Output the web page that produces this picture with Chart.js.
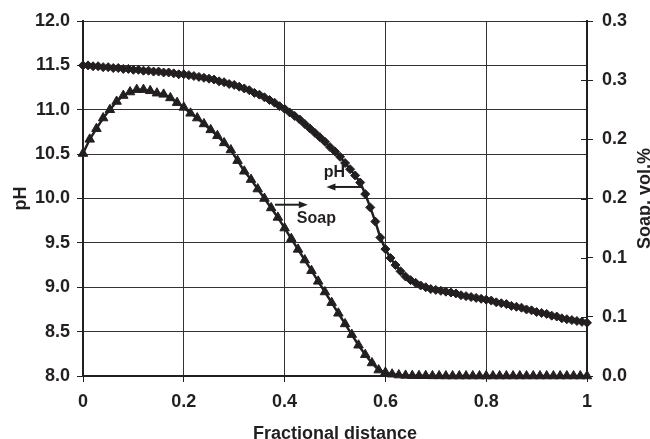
<!DOCTYPE html>
<html>
<head>
<meta charset="utf-8">
<script src="https://cdn.jsdelivr.net/npm/chart.js@4.4.1/dist/chart.umd.min.js"></script>
<style>
  html, body { margin: 0; padding: 0; background: #fff; }
  #wrap { width: 650px; height: 439px; }
</style>
</head>
<body>
<div id="wrap"><canvas id="chart" width="650" height="439"></canvas></div>
<script>
// sampling of the two curves along the fractional distance
const phStep = 0.01
const soapStep = 1 / 75

// pH (left axis), one value per phStep from 0 to 1
const phValues = [
  11.50, 11.50, 11.49, 11.49, 11.48, 11.48, 11.47, 11.47, 11.46, 11.46,
  11.45, 11.45, 11.44, 11.44, 11.43, 11.43, 11.42, 11.42, 11.41, 11.40,
  11.40, 11.39, 11.38, 11.37, 11.36, 11.35, 11.34, 11.32, 11.31, 11.29,
  11.28, 11.26, 11.24, 11.22, 11.19, 11.17, 11.14, 11.11, 11.08, 11.04,
  11.01, 10.97, 10.93, 10.89, 10.84, 10.79, 10.74, 10.69, 10.64, 10.58,
  10.53, 10.47, 10.40, 10.33, 10.26, 10.18, 10.05, 9.90, 9.74, 9.56,
  9.43, 9.33, 9.25, 9.18, 9.12, 9.08, 9.05, 9.02, 9.00, 8.98,
  8.97, 8.96, 8.95, 8.94, 8.93, 8.91, 8.90, 8.89, 8.88, 8.87,
  8.86, 8.85, 8.83, 8.82, 8.81, 8.79, 8.78, 8.77, 8.75, 8.74,
  8.72, 8.71, 8.70, 8.68, 8.67, 8.65, 8.64, 8.63, 8.62, 8.61,
  8.60
]

// soap vol.% (right axis), one value per soapStep from 0 to 1
const soapValues = [
  0.188, 0.200, 0.209, 0.218, 0.225, 0.232, 0.237, 0.240, 0.242, 0.242,
  0.241, 0.239, 0.238, 0.235, 0.231, 0.227, 0.222, 0.218, 0.213, 0.208,
  0.203, 0.197, 0.191, 0.182, 0.173, 0.166, 0.158, 0.150, 0.142, 0.134,
  0.125, 0.116, 0.107, 0.098, 0.089, 0.080, 0.071, 0.062, 0.053, 0.044,
  0.035, 0.026, 0.018, 0.011, 0.005, 0.003, 0.0015, 0.0008, 0.0005, 0.0003,
  0.0002, 0.0002, 0.0001, 0.0001, 0, 0, 0, 0, 0, 0,
  0, 0, 0, 0, 0, 0, 0, 0, 0, 0,
  0, 0, 0, 0, 0, 0
]

const xTickLabels = ['0', '0.2', '0.4', '0.6', '0.8', '1']
const phTickLabels = ['8.0', '8.5', '9.0', '9.5', '10.0', '10.5', '11.0', '11.5', '12.0']
const soapTickLabels = ['0.0', '0.1', '0.1', '0.2', '0.2', '0.3', '0.3']

const ink = '#231f20'
const gridColor = '#333333'
const font = '"Liberation Sans", Arial, sans-serif'

const phPoints = phValues.map((v, i) => ({ x: i * phStep, y: v }))
const soapPoints = soapValues.map((v, i) => ({ x: i * soapStep, y: v }))

// titles, arrows and the inner half of the right-hand ticks
const decorations = {
  id: 'decorations',
  afterDraw(chart) {
    const { ctx, chartArea, scales } = chart
    const x = scales.x, y = scales.y, y2 = scales.y2
    ctx.save()

    ctx.strokeStyle = ink
    ctx.lineWidth = 1
    y2.ticks.forEach((t, i) => {
      const py = Math.round(y2.getPixelForTick(i)) + 0.5
      ctx.beginPath()
      ctx.moveTo(chartArea.right - 6, py)
      ctx.lineTo(chartArea.right, py)
      ctx.stroke()
    })

    ctx.fillStyle = ink
    ctx.font = 'bold 18px ' + font
    ctx.textAlign = 'center'
    ctx.textBaseline = 'alphabetic'
    ctx.fillText('Fractional distance', (chartArea.left + chartArea.right) / 2, 439)

    ctx.save()
    ctx.translate(26, (chartArea.top + chartArea.bottom) / 2)
    ctx.rotate(-Math.PI / 2)
    ctx.fillText('pH', 0, 0)
    ctx.restore()

    ctx.save()
    ctx.translate(650, (chartArea.top + chartArea.bottom) / 2)
    ctx.rotate(-Math.PI / 2)
    ctx.fillText('Soap. vol.%', 0, 0)
    ctx.restore()

    ctx.font = 'bold 16px ' + font
    ctx.fillText('pH', x.getPixelForValue(0.499), y.getPixelForValue(10.24))
    ctx.fillText('Soap', x.getPixelForValue(0.463), y.getPixelForValue(9.72))

    function arrow(x0, x1, yv) {
      const a = x.getPixelForValue(x0), b = x.getPixelForValue(x1)
      const py = y.getPixelForValue(yv)
      const dir = b > a ? 1 : -1
      ctx.lineWidth = 2
      ctx.beginPath()
      ctx.moveTo(a, py)
      ctx.lineTo(b - dir * 6, py)
      ctx.stroke()
      ctx.beginPath()
      ctx.moveTo(b, py)
      ctx.lineTo(b - dir * 9, py - 3.5)
      ctx.lineTo(b - dir * 9, py + 3.5)
      ctx.closePath()
      ctx.fill()
    }
    arrow(0.555, 0.483, 10.13)
    arrow(0.381, 0.446, 9.93)

    ctx.restore()
  }
}

const ctx = document.getElementById('chart').getContext('2d')
const chart = new Chart(ctx, {
  type: 'line',
  data: {
    datasets: [
      {
        label: 'pH',
        data: phPoints,
        yAxisID: 'y',
        borderColor: ink,
        backgroundColor: ink,
        borderWidth: 2.5,
        pointStyle: 'rectRot',
        pointRadius: 4.5,
        pointBorderWidth: 1,
        tension: 0,
        clip: false
      },
      {
        label: 'Soap',
        data: soapPoints,
        yAxisID: 'y2',
        borderColor: ink,
        backgroundColor: ink,
        borderWidth: 2.5,
        pointStyle: 'triangle',
        pointRadius: 5.5,
        pointBorderWidth: 1,
        tension: 0,
        clip: false
      }
    ]
  },
  options: {
    responsive: false,
    animation: false,
    layout: { padding: { top: 21, left: 0, right: 0, bottom: 0 } },
    plugins: {
      legend: { display: false },
      tooltip: { enabled: false }
    },
    scales: {
      x: {
        type: 'linear',
        min: 0,
        max: 1,
        afterFit: (scale) => { scale.height = 63 },
        ticks: {
          stepSize: 0.2,
          padding: 9,
          color: ink,
          font: { family: font, size: 18, weight: 'bold' },
          callback: (v, i) => xTickLabels[i]
        },
        grid: { color: gridColor, lineWidth: 1, tickLength: 6, tickColor: ink },
        border: { color: ink, width: 2 }
      },
      y: {
        position: 'left',
        min: 8,
        max: 12,
        afterFit: (scale) => { scale.width = 83 },
        ticks: {
          stepSize: 0.5,
          padding: 7,
          color: ink,
          font: { family: font, size: 18, weight: 'bold' },
          callback: (v, i) => phTickLabels[i]
        },
        grid: { color: gridColor, lineWidth: 1, tickLength: 6, tickColor: ink },
        border: { color: ink, width: 2 }
      },
      y2: {
        position: 'right',
        min: 0,
        max: 0.3,
        afterFit: (scale) => { scale.width = 63 },
        ticks: {
          stepSize: 0.05,
          padding: 9,
          color: ink,
          font: { family: font, size: 18, weight: 'bold' },
          callback: (v, i) => soapTickLabels[i]
        },
        grid: { drawOnChartArea: false, tickLength: 6, tickColor: ink },
        border: { color: ink, width: 2 }
      }
    }
  },
  plugins: [decorations]
})
</script>
</body>
</html>
